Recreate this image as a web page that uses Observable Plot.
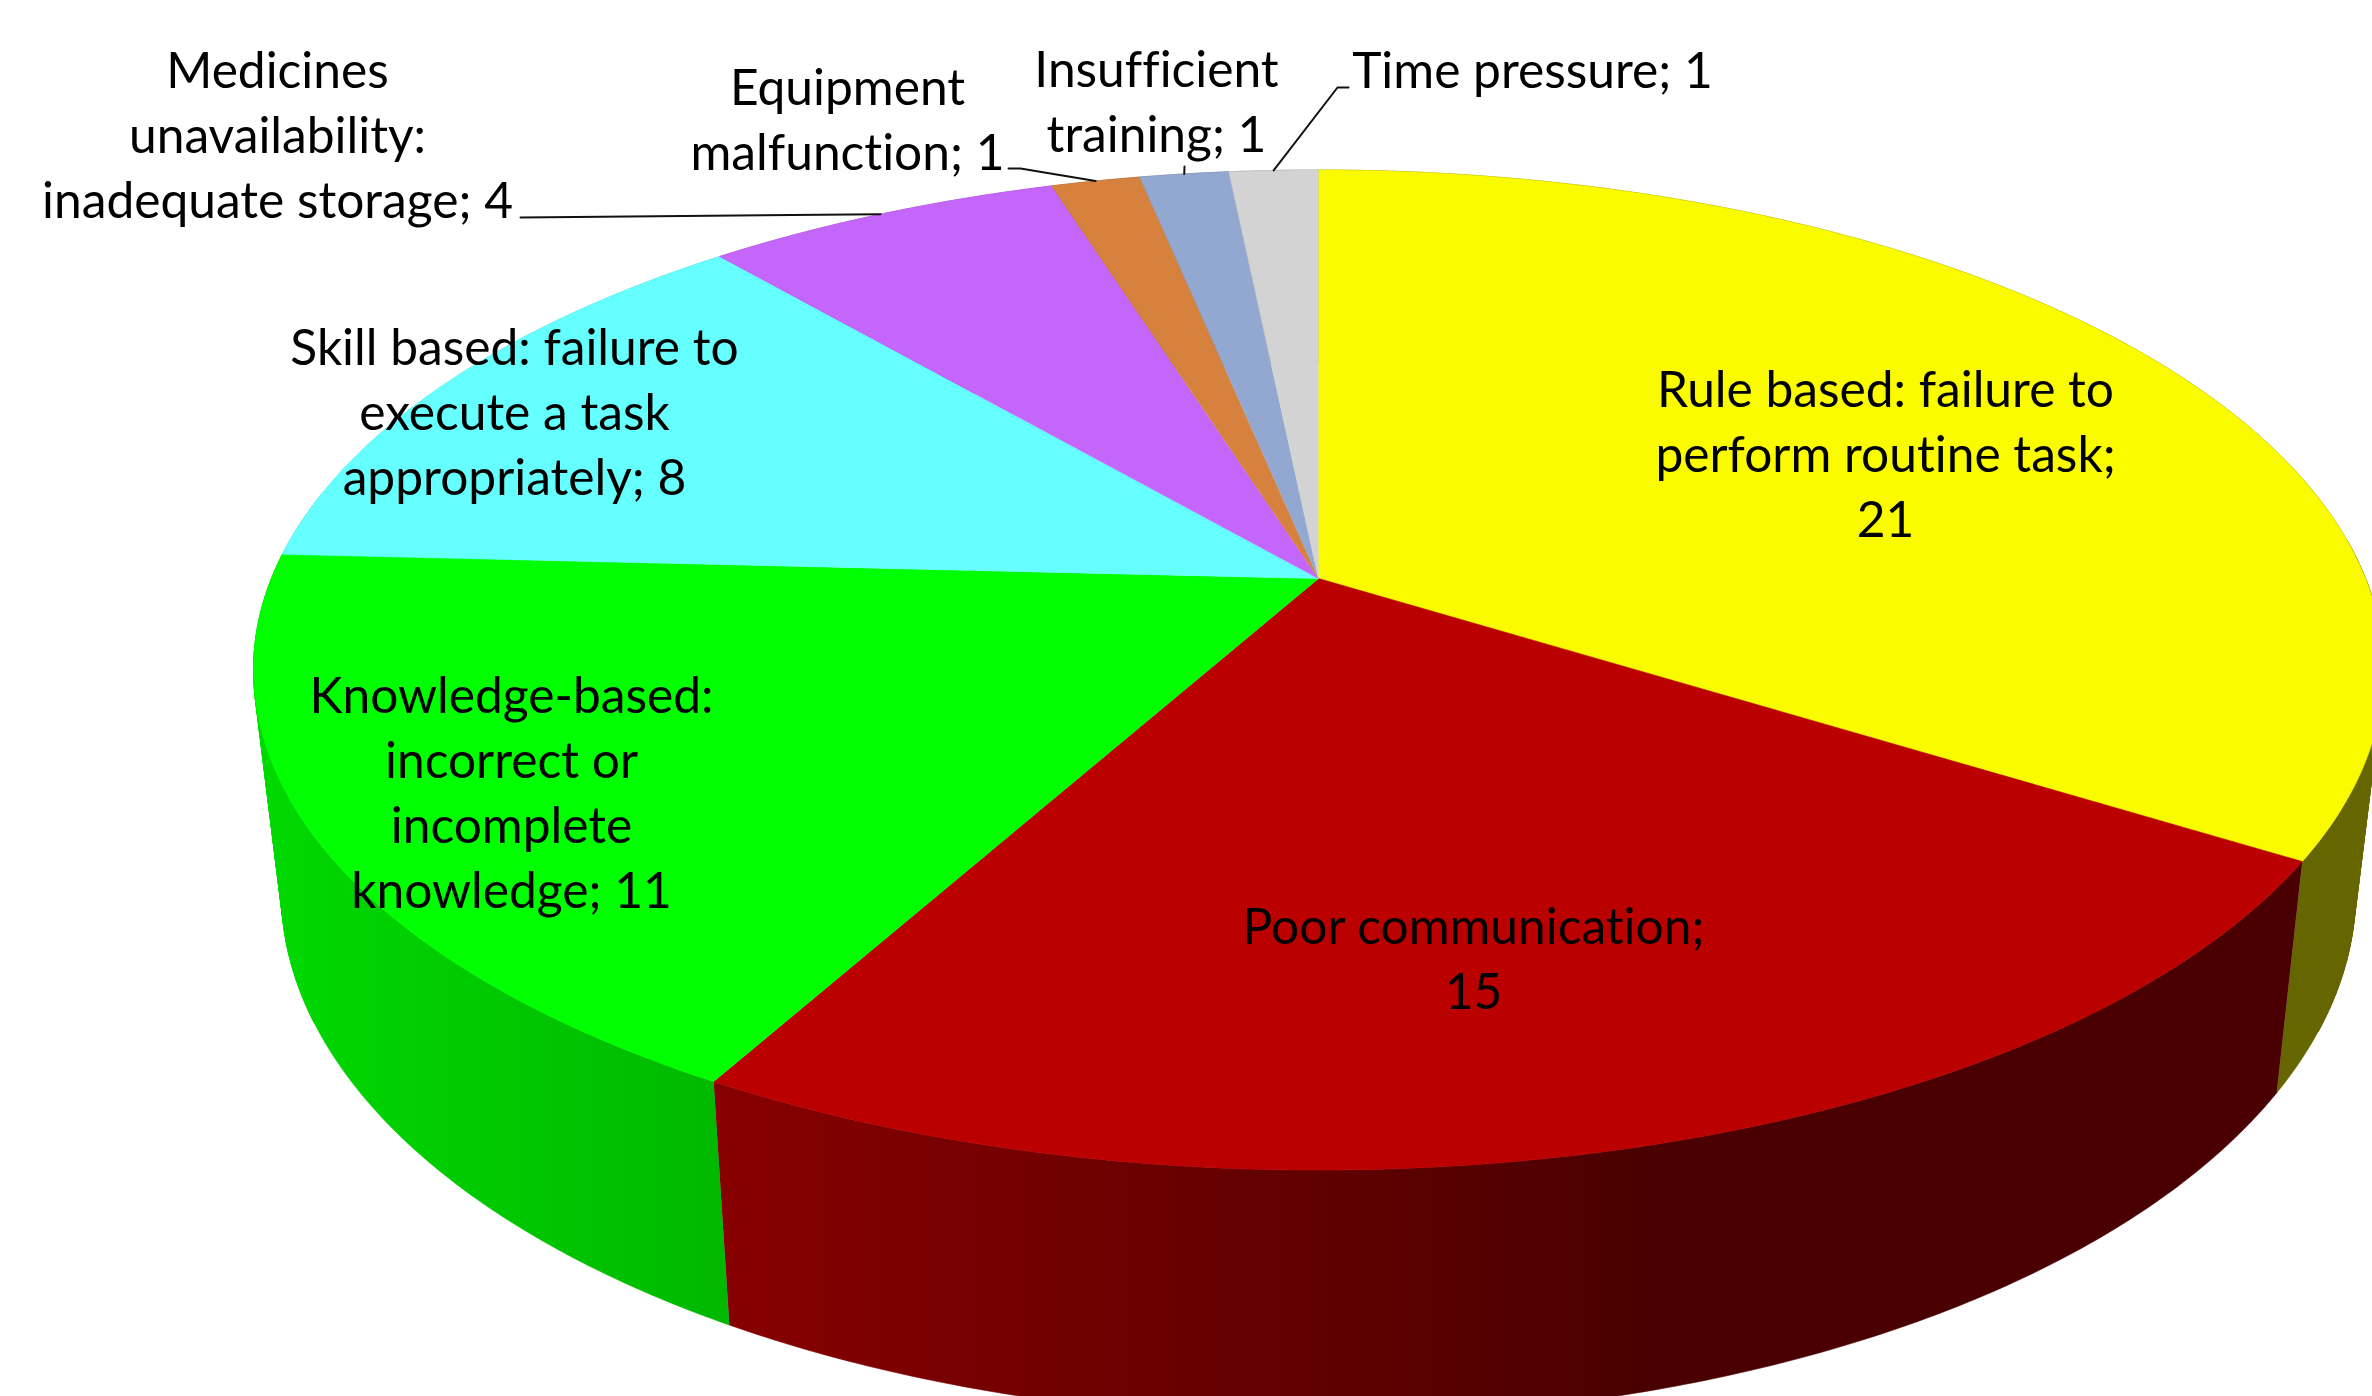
<!DOCTYPE html>
<html>
<head>
<meta charset="utf-8">
<script src="https://cdn.jsdelivr.net/npm/d3@7"></script>
<script src="https://cdn.jsdelivr.net/npm/@observablehq/plot@0.6"></script>
<style>
html,body{margin:0;padding:0;background:#fff;overflow:hidden}
svg{display:block}
svg text{font-variant-ligatures:none}
</style>
</head>
<body>
<div id="chart"></div>
<script>
// Chart data
const categories = ["Rule based: failure to\nperform routine task;\n21","Poor communication;\n15","Knowledge-based:\nincorrect or\nincomplete\nknowledge; 11","Skill based: failure to\nexecute a task\nappropriately; 8","Medicines\nunavailability:\ninadequate storage; 4","Equipment\nmalfunction; 1","Insufficient\ntraining; 1","Time pressure; 1"];
const values = [21, 15, 11, 8, 4, 1, 1, 1];
const colors = ["#fbfb00","#bb0000","#00ff00","#66ffff","#c566fb","#d6813d","#92a8d0","#d3d3d3"];

// Layout of the labels and leaders (separate from the data)
const labelPos = [[1885,451],[1473,955],[511,789],[514,409],[277,132],[847,116],[1156,98],[1532,67]];
const leaderElbows = [null,null,null,null,[[520,217]],[[1008,168],[1020,168]],[[1184,166]],[[1348,87],[1337,87]]];

const W = 2372, H = 1396;
// Perspective view of the pie disc
const view = {cx:1318, cy:578, A:1047, B:483.3, k:0.183, wallScaleX:0.974, wallScaleY:1.055, wallDrop:184};
function project(deg, r = 1) {
  const a = deg * Math.PI / 180, px = r * Math.sin(a), py = r * Math.cos(a), d = 1 + view.k * py;
  return [view.cx + view.A * px / d, view.cy - view.B * py / d];
}
const lower = ([x, y]) => [view.cx + (x - view.cx) * view.wallScaleX, y * view.wallScaleY + view.wallDrop];
// Light falling on the wall, left to right
const shadeStops = [[260, 0.85], [712, 0.725], [1650, 0.396]];
const dim = (c, f) => { const q = d3.rgb(c); return d3.rgb(q.r * f, q.g * f, q.b * f).formatHex(); };

const total = d3.sum(values);
const cum = d3.cumsum(values);
const slices = values.map((v, i) => ({i, a0: (cum[i] - v) / total * 360, a1: cum[i] / total * 360}));

function arcAngles(a0, a1) {
  const n = Math.max(2, Math.ceil((a1 - a0) / 0.5)), out = [];
  for (let j = 0; j <= n; j++) out.push(a0 + (a1 - a0) * j / n);
  return out;
}

// Horizontal gradients for the outer wall of each slice
function wallDefs(index, scales) {
  const defs = d3.create("svg:defs");
  slices.forEach(s => {
    const g = defs.append("linearGradient").attr("id", `wall${s.i}`).attr("gradientUnits", "userSpaceOnUse")
      .attr("x1", scales.x(shadeStops[0][0])).attr("x2", scales.x(shadeStops[2][0])).attr("y1", 0).attr("y2", 0);
    const base = s.i === 0 ? "#ffff00" : colors[s.i];
    shadeStops.forEach(([x, f]) => g.append("stop")
      .attr("offset", (x - shadeStops[0][0]) / (shadeStops[2][0] - shadeStops[0][0]))
      .attr("stop-color", dim(base, s.i === 0 ? 0.4 : f)));
  });
  return defs.node();
}

// Wall of one slice: one band between the top rim and the bottom rim
function wallBand(s) {
  const rim = arcAngles(s.a0, s.a1).map(a => project(a));
  return [...rim, ...rim.map(lower).reverse()].map(([x, y]) => ({x, y}));
}
// Near the left and right silhouette, quads fill the sliver that the band misses
const nearSilhouette = a => (a > 85 && a < 115) || (a > 245 && a < 280);
function wallSliver(s) {
  const as = arcAngles(s.a0, s.a1), out = [];
  for (let j = 0; j + 1 < as.length; j++) {
    if (!nearSilhouette(as[j])) continue;
    const p0 = project(as[j]), p1 = project(as[j + 1]);
    [p0, p1, lower(p1), lower(p0)].forEach(([x, y]) => out.push({q: j, x, y}));
  }
  return out;
}

// Top faces
const topPts = [];
slices.forEach(s => {
  const id = `t${s.i}`, fill = colors[s.i];
  const [cx, cy] = project(0, 0);
  topPts.push({id, x: cx, y: cy, fill});
  arcAngles(s.a0, s.a1).forEach(a => { const [x, y] = project(a); topPts.push({id, x, y, fill}); });
});

// Leader lines
const leaderPts = [];
slices.forEach(s => {
  if (!leaderElbows[s.i]) return;
  const [x, y] = project((s.a0 + s.a1) / 2);
  leaderPts.push({id: s.i, x, y});
  leaderElbows[s.i].slice().reverse().forEach(([ex, ey]) => leaderPts.push({id: s.i, x: ex, y: ey}));
});

const labels = categories.map((text, i) => ({text, x: labelPos[i][0], y: labelPos[i][1]}));
const fontSize = 49.7;

const chart = Plot.plot({
  width: W, height: H,
  margin: 0,
  style: {background: "#fff", fontFamily: "Lato, sans-serif"},
  x: {domain: [0, W], range: [0, W], axis: null},
  y: {domain: [0, H], range: [0, H], axis: null},
  color: {type: "identity"},
  marks: [
    wallDefs,
    ...slices.flatMap(s => [
      Plot.line(wallSliver(s), {x: "x", y: "y", z: "q", fill: `url(#wall${s.i})`, stroke: `url(#wall${s.i})`, strokeWidth: 1}),
      Plot.line(wallBand(s), {x: "x", y: "y", fill: `url(#wall${s.i})`, stroke: `url(#wall${s.i})`, strokeWidth: 0.6})
    ]),
    Plot.line(topPts, {x: "x", y: "y", z: "id", fill: "fill", stroke: "fill", strokeWidth: 0.6}),
    Plot.line(leaderPts, {x: "x", y: "y", z: "id", stroke: "#111", strokeWidth: 2}),
    Plot.text(labels, {x: "x", y: "y", text: "text", fontSize, lineHeight: 65 / fontSize, fill: "#000", textAnchor: "middle", lineAnchor: "middle"})
  ]
});
document.getElementById("chart").append(chart);
</script>
</body>
</html>
